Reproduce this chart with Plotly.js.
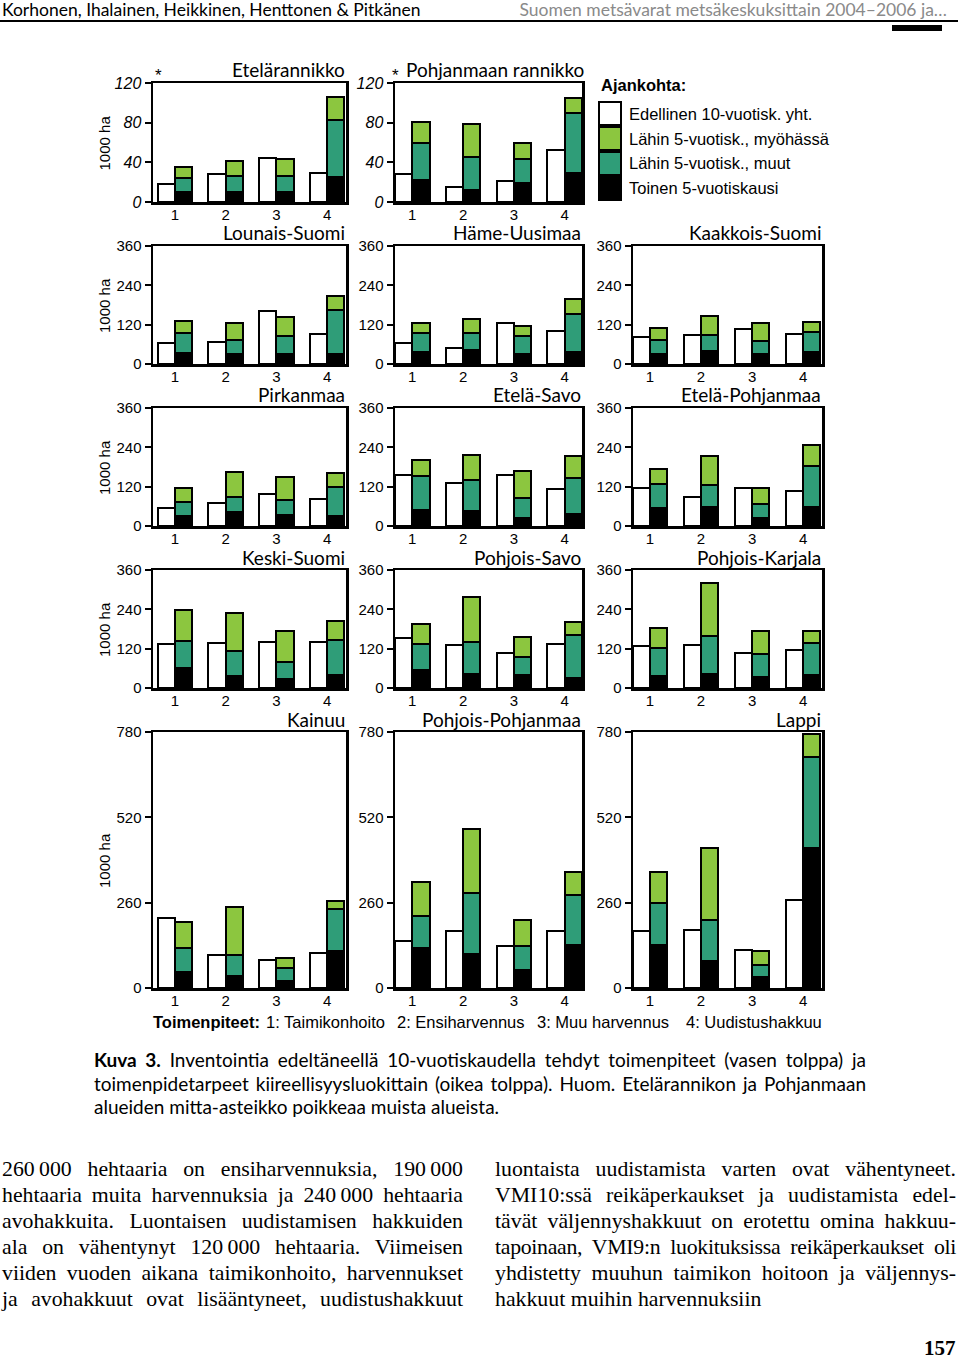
<!DOCTYPE html>
<html>
<head>
<meta charset="utf-8">
<script src="https://cdn.plot.ly/plotly-3.0.1.min.js"></script>
<style>
  html, body { margin:0; padding:0; background:#fff; }
  #page { position:relative; width:960px; height:1361px; overflow:hidden; }
  #chart { position:absolute; left:0; top:0; width:960px; height:1361px; }
  .txt { position:absolute; white-space:nowrap; color:#000; }
  .just { position:absolute; white-space:nowrap; text-align:justify; text-align-last:justify; }
  .hdr { font-family:'Lato','Open Sans',sans-serif; font-size:17.5px; line-height:20px; }
  .cap { font-family:'Lato','Open Sans',sans-serif; font-size:19px; left:94px; width:772px; height:24px; line-height:24px; }
  .body { font-family:'Liberation Serif','Times New Roman',serif; font-size:21.8px; height:26px; line-height:26px; }
  .tp { font-family:'Liberation Sans',Arial,sans-serif; font-size:16.5px; top:1012px; line-height:20px; }
</style>
</head>
<body>
<div id="page">
  <div id="chart"></div>

  <div class="txt hdr" style="left:2px; top:0px;">Korhonen, Ihalainen, Heikkinen, Henttonen &amp; Pitkänen</div>
  <div class="txt hdr" style="right:13px; top:0px; color:#8a8a8a;">Suomen metsävarat metsäkeskuksittain 2004–2006 ja…</div>
  <div style="position:absolute; left:0; top:20px; width:958px; height:2px; background:#000;"></div>
  <div style="position:absolute; left:892px; top:25px; width:50px; height:6px; background:#000;"></div>

  <div class="txt tp" style="left:153px; font-weight:bold;">Toimenpiteet:</div>
  <div class="txt tp" style="left:266px;">1: Taimikonhoito</div>
  <div class="txt tp" style="left:397px;">2: Ensiharvennus</div>
  <div class="txt tp" style="left:537px;">3: Muu harvennus</div>
  <div class="txt tp" style="left:686px;">4: Uudistushakkuu</div>

  <div class="just cap" style="top:1048px;"><b>Kuva 3.</b> Inventointia edeltäneellä 10-vuotiskaudella tehdyt toimenpiteet (vasen tolppa) ja</div>
  <div class="just cap" style="top:1072px;">toimenpidetarpeet kiireellisyysluokittain (oikea tolppa). Huom. Etelärannikon ja Pohjanmaan</div>
  <div class="txt cap" style="top:1095px;">alueiden mitta-asteikko poikkeaa muista alueista.</div>

  <div class="just body" style="left:2px; width:461px; top:1156px;">260&#8201;000 hehtaaria on ensiharvennuksia, 190&#8201;000</div>
  <div class="just body" style="left:2px; width:461px; top:1182px;">hehtaaria muita harvennuksia ja 240&#8201;000 hehtaaria</div>
  <div class="just body" style="left:2px; width:461px; top:1208px;">avohakkuita. Luontaisen uudistamisen hakkuiden</div>
  <div class="just body" style="left:2px; width:461px; top:1234px;">ala on vähentynyt 120&#8201;000 hehtaaria. Viimeisen</div>
  <div class="just body" style="left:2px; width:461px; top:1260px;">viiden vuoden aikana taimikonhoito, harvennukset</div>
  <div class="just body" style="left:2px; width:461px; top:1286px;">ja avohakkuut ovat lisääntyneet, uudistushakkuut</div>

  <div class="just body" style="left:495px; width:461px; top:1156px;">luontaista uudistamista varten ovat vähentyneet.</div>
  <div class="just body" style="left:495px; width:461px; top:1182px;">VMI10:ssä reikäperkaukset ja uudistamista edel-</div>
  <div class="just body" style="left:495px; width:461px; top:1208px;">tävät väljennyshakkuut on erotettu omina hakkuu-</div>
  <div class="just body" style="left:495px; width:461px; top:1234px; letter-spacing:-0.3px;">tapoinaan, VMI9:n luokituksissa reikäperkaukset oli</div>
  <div class="just body" style="left:495px; width:461px; top:1260px;">yhdistetty muuhun taimikon hoitoon ja väljennys-</div>
  <div class="txt body" style="left:495px; top:1286px;">hakkuut muihin harvennuksiin</div>

  <div class="txt" style="left:924px; top:1336px; font-family:'Liberation Serif',serif; font-weight:bold; font-size:21px; line-height:24px;">157</div>
</div>

<script>
// ---------------- DATA ----------------
const categories = [1, 2, 3, 4];
const tickLabels = ['1', '2', '3', '4'];

const regions = [
  'Etelärannikko', 'Pohjanmaan rannikko',
  'Lounais-Suomi', 'Häme-Uusimaa', 'Kaakkois-Suomi',
  'Pirkanmaa', 'Etelä-Savo', 'Etelä-Pohjanmaa',
  'Keski-Suomi', 'Pohjois-Savo', 'Pohjois-Karjala',
  'Kainuu', 'Pohjois-Pohjanmaa', 'Lappi'
];

// Edellinen 10-vuotisk. yht. (white, left bar), 1000 ha
const prev10 = [
  [18, 28, 44, 29], [28, 15, 21, 52],
  [64, 67, 163, 92], [65, 50, 125, 101], [82, 87, 108, 92],
  [55, 71, 97, 83], [155, 130, 157, 112], [117, 90, 117, 106],
  [135, 137, 140, 140], [153, 132, 106, 135], [128, 131, 107, 116],
  [213, 100, 85, 107], [143, 174, 128, 174], [174, 177, 116, 268]
];
// Toinen 5-vuotiskausi (black, bottom of right bar)
const second5 = [
  [10, 10, 10, 25], [22, 12, 19, 29],
  [35, 29, 29, 32], [36, 42, 32, 36], [29, 40, 31, 37],
  [31, 43, 33, 32], [48, 46, 24, 37], [56, 58, 25, 57],
  [61, 36, 27, 40], [56, 44, 41, 31], [37, 43, 34, 40],
  [49, 37, 21, 113], [122, 104, 55, 131], [131, 82, 34, 427]
];
// Lähin 5-vuotisk., muut (teal, middle)
const next5Other = [
  [14, 16, 16, 58], [38, 33, 24, 61],
  [61, 45, 56, 132], [59, 54, 54, 117], [44, 47, 39, 60],
  [43, 46, 47, 87], [106, 94, 62, 110], [72, 68, 41, 125],
  [82, 76, 51, 106], [77, 97, 54, 132], [85, 116, 70, 97],
  [73, 63, 40, 128], [97, 185, 73, 152], [128, 125, 36, 277]
];
// Lähin 5-vuotisk., myöhässä (light green, top)
const next5Late = [
  [11, 15, 17, 23], [21, 34, 16, 15],
  [34, 50, 58, 42], [29, 41, 31, 46], [37, 58, 55, 31],
  [42, 76, 69, 44], [46, 78, 81, 68], [47, 89, 51, 64],
  [94, 116, 95, 58], [62, 137, 60, 39], [61, 161, 70, 37],
  [79, 147, 30, 24], [104, 195, 79, 70], [94, 220, 43, 70]
];
const legendLabels = ['Edellinen 10-vuotisk. yht.', 'Lähin 5-vuotisk., myöhässä', 'Lähin 5-vuotisk., muut', 'Toinen 5-vuotiskausi'];

// ---------------- LAYOUT GEOMETRY ----------------
const W = 960, H = 1361;
const fx = p => p / W;
const fy = p => 1 - p / H;
const panelRow = [0,0, 1,1,1, 2,2,2, 3,3,3, 4,4,4];
const panelCol = [0,1, 0,1,2, 0,1,2, 0,1,2, 0,1,2];
const rowPx = [[83,202],[246,364],[408,526],[570,688],[732,988]];
const colPx = [[153,346],[395,582],[633,822]];
const colRange = [[0.57,4.37],[0.66,4.34],[0.667,4.37]];
const rowTicks = [[0,40,80,120],[0,120,240,360],[0,120,240,360],[0,120,240,360],[0,260,520,780]];

const C_WHITE = '#ffffff', C_BLACK = '#000000', C_TEAL = '#2f9d78', C_GREEN = '#8cc63f';
const BW = 0.34, OFF = 0.17;
const tickFam = 'Liberation Sans, Arial, sans-serif';
const titleFam = 'Lato, Open Sans, sans-serif';

const traces = [];
const layout = {
  width: W, height: H,
  margin: {l:0, r:0, t:0, b:0},
  paper_bgcolor: 'rgba(0,0,0,0)', plot_bgcolor: 'rgba(0,0,0,0)',
  barmode: 'stack', showlegend: false,
  annotations: [], shapes: []
};

regions.forEach((name, i) => {
  const r = panelRow[i], c = panelCol[i];
  const k = i + 1;
  const xn = k === 1 ? 'x' : 'x' + k;
  const yn = k === 1 ? 'y' : 'y' + k;
  const xk = k === 1 ? 'xaxis' : 'xaxis' + k;
  const yk = k === 1 ? 'yaxis' : 'yaxis' + k;
  const rmax = rowTicks[r][3];

  layout[xk] = {
    domain: [fx(colPx[c][0]), fx(colPx[c][1])], range: colRange[c], anchor: yn,
    tickvals: categories, ticktext: tickLabels, ticks: '', ticklabelstandoff: -3,
    showline: true, mirror: true, linewidth: 2.5, linecolor: '#000',
    showgrid: false, zeroline: false, fixedrange: true,
    tickfont: {family: tickFam, size: 15, color: '#000'}
  };
  layout[yk] = {
    domain: [fy(rowPx[r][1]), fy(rowPx[r][0])], range: [0, rmax], anchor: xn,
    tickvals: rowTicks[r], ticks: 'outside', ticklen: 6, tickwidth: 2, tickcolor: '#000',
    showline: true, mirror: true, linewidth: 2.5, linecolor: '#000',
    showgrid: false, zeroline: false, fixedrange: true,
    tickfont: {family: tickFam, size: r === 0 ? 16 : 15, color: '#000', style: r === 0 ? 'italic' : 'normal'}
  };

  const left = categories.map(v => v - OFF);
  const right = categories.map(v => v + OFF);
  const base = {type: 'bar', width: BW, xaxis: xn, yaxis: yn, hoverinfo: 'skip', showlegend: false};
  traces.push(Object.assign({}, base, {x: left, y: prev10[i], marker: {color: C_WHITE, line: {color: '#000', width: 2}}}));
  traces.push(Object.assign({}, base, {x: right, y: second5[i], marker: {color: C_BLACK, line: {color: '#000', width: 2}}}));
  traces.push(Object.assign({}, base, {x: right, y: next5Other[i], marker: {color: C_TEAL, line: {color: '#000', width: 2}}}));
  traces.push(Object.assign({}, base, {x: right, y: next5Late[i], marker: {color: C_GREEN, line: {color: '#000', width: 2}}}));

  layout.annotations.push({
    xref: 'paper', yref: 'paper', x: fx(colPx[c][1] + (i === 1 ? 4 : 1)), y: fy(rowPx[r][0] - 13),
    xanchor: 'right', yanchor: 'middle', showarrow: false, text: name,
    font: {family: titleFam, size: 19, color: '#000'}
  });
});

// asterisks
[[158, 75], [395, 75]].forEach(p => layout.annotations.push({
  xref: 'paper', yref: 'paper', x: fx(p[0]), y: fy(p[1]), xanchor: 'center', yanchor: 'middle',
  showarrow: false, text: '*', font: {family: tickFam, size: 17, color: '#000'}
}));

// y-axis titles
rowPx.forEach(rp => layout.annotations.push({
  xref: 'paper', yref: 'paper', x: fx(104), y: fy((rp[0] + rp[1]) / 2 + 1), xanchor: 'center', yanchor: 'middle',
  showarrow: false, text: '1000 ha', textangle: -90, font: {family: tickFam, size: 15, color: '#000'}
}));

// legend (drawn manually)
layout.annotations.push({
  xref: 'paper', yref: 'paper', x: fx(599), y: fy(85), xanchor: 'left', yanchor: 'middle', showarrow: false,
  text: '<b>Ajankohta:</b>', font: {family: tickFam, size: 16.5, color: '#000'}
});
const legColors = [C_WHITE, C_GREEN, C_TEAL, C_BLACK];
const legTop = [102, 127, 152, 177];
legendLabels.forEach((lab, j) => {
  layout.shapes.push({
    type: 'rect', xref: 'paper', yref: 'paper',
    x0: fx(599), x1: fx(621), y0: fy(legTop[j]), y1: fy(legTop[j] + 23),
    fillcolor: legColors[j], line: {color: '#000', width: 2}
  });
  layout.annotations.push({
    xref: 'paper', yref: 'paper', x: fx(627), y: fy(legTop[j] + 11.5), xanchor: 'left', yanchor: 'middle',
    showarrow: false, text: lab, font: {family: tickFam, size: 16.5, color: '#000'}
  });
});

Plotly.newPlot('chart', traces, layout, {staticPlot: true, displayModeBar: false});
</script>
</body>
</html>
